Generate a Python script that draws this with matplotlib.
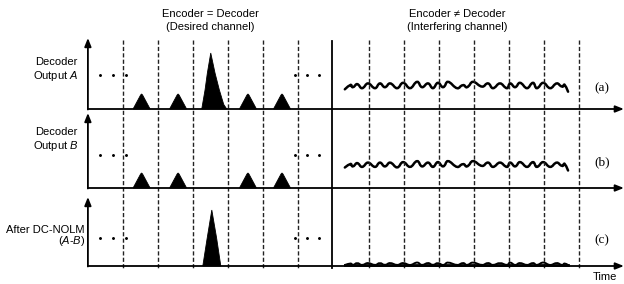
import numpy as np
import matplotlib
matplotlib.use('Agg')
import matplotlib.pyplot as plt
from matplotlib.path import Path
from matplotlib.patches import PathPatch

plt.rcParams['font.family'] = ['Liberation Sans', 'DejaVu Sans']
plt.rcParams['mathtext.fontset'] = 'custom'
plt.rcParams['mathtext.it'] = 'Liberation Sans:italic'
plt.rcParams['mathtext.rm'] = 'Liberation Sans'

# time in units of one bit slot (slot boundaries are the dashed lines)
slot_edges_left = [0, 1, 2, 3, 4, 5]
slot_edges_right = [7, 8, 9, 10, 11, 12, 13]
divider_t = 5.95

# pulse centres / heights (px above baseline) per trace
pulse_t_a = [0.53, 1.57, 2.50, 3.56, 4.53]
pulse_h_a = [15, 15, 56, 15, 15]
pulse_t_b = [0.53, 1.57, 3.56, 4.53]
pulse_h_b = [15, 15, 15, 15]
pulse_t_c = [2.53]
pulse_h_c = [56]

# "..." markers
dots_t = [-0.66, -0.28, 0.09, 4.90, 5.24, 5.58]
dots_h = [34, 33, 28]

# interference on the right half (peak/trough points)
wave_t = [6.32, 6.47, 6.55, 6.67, 6.81, 6.98, 7.18, 7.32, 7.46, 7.61, 7.81,
          7.98, 8.18, 8.38, 8.52, 8.69, 8.83, 8.97, 9.12, 9.26, 9.52, 9.69,
          9.80, 9.97, 10.23, 10.40, 10.54, 10.74, 10.94, 11.03, 11.17, 11.31,
          11.51, 11.68, 11.79, 11.97, 12.17, 12.36, 12.51, 12.59, 12.68]
wave_a = [19.7, 24, 21.7, 25, 20.7, 25.7, 20.7, 25.7, 21.7, 25.7, 20.7,
          26.3, 20.7, 27.3, 21.7, 25.7, 20.7, 26.3, 21.7, 27.3, 20.7, 24,
          21.7, 27.3, 22.3, 25.7, 20.7, 25.7, 20.7, 25.7, 21.7, 26.3,
          20.7, 26.3, 20.7, 26.3, 20.7, 25.7, 22.3, 24, 17.3]
wave_b = [20.5, 24, 21.5, 25, 21, 25.5, 21, 25.5, 21.5, 25.5, 20.5,
          26, 21, 27, 21.5, 25.5, 21, 26, 21.5, 27, 21, 24,
          21.5, 27, 22, 25.5, 21, 25.5, 21, 25.5, 21.5, 26,
          21, 26, 21, 26, 21, 25.5, 22, 24, 17.5]
wave_c = [1, 2.5, 1, 3, 1, 3, 1, 3, 1, 3, 1,
          3, 1, 3.5, 1, 3, 1, 3, 1, 3.5, 1, 3,
          1, 3.5, 1, 3, 1, 3, 1, 3.5, 1, 3,
          1, 3, 1, 3.5, 1, 3, 1, 2.5, 1]

W, H = 624, 284
PX = 35.1          # pixels per slot
T0 = 123           # pixel x of t = 0
base = {'a': 109, 'b': 188, 'c': 266}
top = {'a': 38, 'b': 113, 'c': 197}

fig = plt.figure(figsize=(W / 100, H / 100), dpi=100)
ax = fig.add_axes([0, 0, 1, 1])
ax.set_xlim(-T0 / PX, (W - T0) / PX)
ax.set_ylim(H, 0)
ax.axis('off')

# dashed slot boundaries + divider
for t in slot_edges_left + slot_edges_right:
    ax.plot([t, t], [40, 270], color='#222222', lw=1.0, ls=(0, (3, 1.6)))
ax.plot([divider_t, divider_t], [41, 268], color='black', lw=1.3)

# axes with arrows
arr = dict(arrowstyle='-|>,head_length=0.55,head_width=0.22', color='black',
           lw=1.3, shrinkA=0, shrinkB=0, mutation_scale=9)
for k in 'abc':
    ax.annotate('', xy=(-1, top[k]), xytext=(-1, base[k] + 0.5), arrowprops=arr)
    ax.annotate('', xy=(14.27, base[k]), xytext=(-1, base[k]), arrowprops=arr)

# pulse shapes (dx in px, fraction of height)
small_shape = [(-8.5, 0), (-1, 0.93), (0, 1), (1, 0.93), (8.5, 0)]
tall_a_shape = [(-9, 0), (-5.7, 0.34), (-3.4, 0.64), (0, 1), (4.3, 0.64),
                (8.6, 0.34), (13, 0.08), (16, 0)]
tall_c_shape = [(-9, 0), (-4.6, 0.5), (0, 1), (4.8, 0.5), (9, 0)]


def draw_pulses(ts, hs, k, tall_shape):
    for t, h in zip(ts, hs):
        shape = tall_shape if h > 30 else small_shape
        xs = [t + dx / PX for dx, f in shape]
        ys = [base[k] - f * h for dx, f in shape]
        ax.fill(xs, ys, color='black', lw=0.6, ec='black')


draw_pulses(pulse_t_a, pulse_h_a, 'a', tall_a_shape)
draw_pulses(pulse_t_b, pulse_h_b, 'b', tall_c_shape)
draw_pulses(pulse_t_c, pulse_h_c, 'c', tall_c_shape)

# dots
for k, h in zip('abc', dots_h):
    ax.plot(dots_t, [base[k] - h] * len(dots_t), ls='none', marker='o',
            ms=1.1, color='black')


def smooth(ts, hs, k, lw):
    # quadratic segments between midpoints, control chosen so the curve
    # passes through each peak / trough
    pts = np.column_stack([ts, base[k] - np.asarray(hs, float)])
    verts = [pts[0]]
    codes = [Path.MOVETO]
    for i in range(1, len(pts) - 1):
        m0 = (pts[i - 1] + pts[i]) / 2 if i > 1 else pts[0]
        m1 = (pts[i] + pts[i + 1]) / 2 if i < len(pts) - 2 else pts[-1]
        ctrl = 2 * pts[i] - (m0 + m1) / 2
        verts += [ctrl, m1]
        codes += [Path.CURVE3, Path.CURVE3]
    ax.add_patch(PathPatch(Path(verts, codes), fc='none', ec='black',
                           lw=lw, capstyle='round', joinstyle='round'))


smooth(wave_t, wave_a, 'a', 1.8)
smooth(wave_t, wave_b, 'b', 1.8)
smooth(wave_t, wave_c, 'c', 1.4)
ax.plot([wave_t[0], wave_t[-1]], [base['c'] - 0.8] * 2, color='black', lw=2.0)

# texts
fs = 8
def ftext(x, y, s, **kw):
    fig.text(x / W, 1 - y / H, s, va='center', **kw)

ftext(210, 14, 'Encoder = Decoder', ha='center', fontsize=fs)
ftext(210, 27, '(Desired channel)', ha='center', fontsize=fs)
ftext(457, 14, 'Encoder \u2260 Decoder', ha='center', fontsize=fs)
ftext(457, 27, '(Interfering channel)', ha='center', fontsize=fs)

ftext(56, 62, 'Decoder', ha='center', fontsize=fs)
ftext(56, 76, r'Output $\mathit{A}$', ha='center', fontsize=fs)
ftext(56, 132, 'Decoder', ha='center', fontsize=fs)
ftext(56, 146, r'Output $\mathit{B}$', ha='center', fontsize=fs)
ftext(85, 230, 'After DC-NOLM', ha='right', fontsize=fs)
ftext(85, 241, r'($\mathit{A}$-$\mathit{B}$)', ha='right', fontsize=fs)

for lab, y in zip(['(a)', '(b)', '(c)'], [88, 162, 240]):
    ftext(602, y, lab, ha='center', fontsize=9.5, family='Liberation Serif')
ftext(605, 277, 'Time', ha='center', fontsize=fs)

fig.savefig('out.png', dpi=100)
